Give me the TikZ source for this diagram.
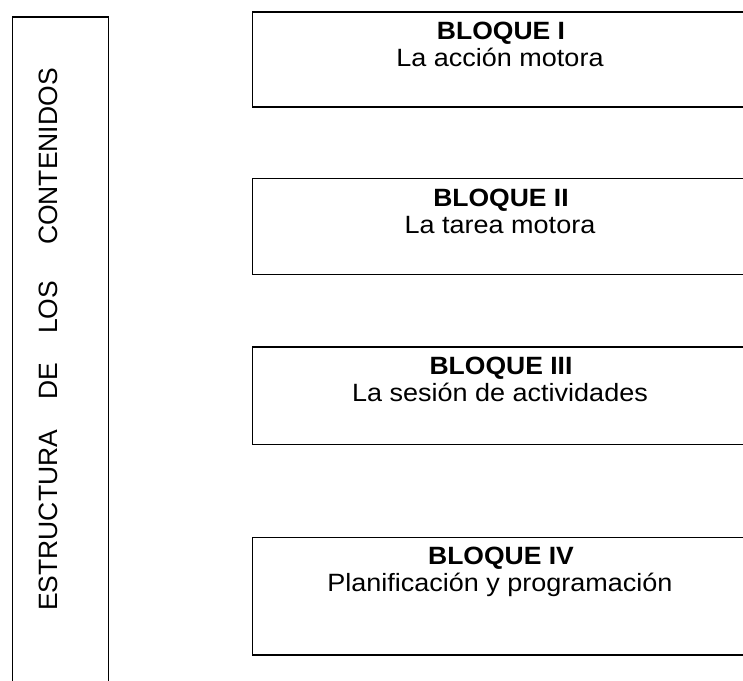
\documentclass[tikz,border=0pt]{standalone}
\usepackage{fontspec}
\setmainfont{Liberation Sans}
\tikzset{
  blockbox/.style={draw=black, line width=1.6pt, rectangle, anchor=north west, minimum width=560pt, inner sep=0pt},
  titletxt/.style={anchor=base, inner sep=0pt, font=\fontsize{25}{30}\selectfont\bfseries, xscale=1.06},
  subtxt/.style={anchor=base, inner sep=0pt, font=\fontsize{25}{30}\selectfont, xscale=1.08},
  sidebox/.style={draw=black, line width=1.6pt, rectangle, anchor=north west, minimum width=96pt, minimum height=720pt, inner sep=0pt},
  sidetxt/.style={anchor=base, inner sep=0pt, rotate=90, font=\fontsize{26.5}{30}\selectfont}
}
\begin{document}
\begin{tikzpicture}[x=1pt,y=-1pt]
\useasboundingbox (0,0) rectangle (743,680);
\clip (0,0) rectangle (743,680);
\fill[white] (0,0) rectangle (743,680);
% left tall box
\node[sidebox] (side) at (11.7,16) {};
\node[sidetxt] (sidet) at (57.3,339.5) {ESTRUCTURA\hspace{30pt}DE\hspace{29pt}LOS\hspace{36pt}CONTENIDOS};
% block boxes
\node[blockbox, minimum height=95pt] (b1) at (251.7,11) {};
\node[titletxt] (t1) at (501,39.5) {BLOQUE I};
\node[subtxt] (s1) at (500,66.5) {La acción motora};

\node[blockbox, minimum height=96pt] (b2) at (251.7,177.5) {};
\node[titletxt] (t2) at (501,206) {BLOQUE II};
\node[subtxt] (s2) at (500,233) {La tarea motora};

\node[blockbox, minimum height=97.5pt] (b3) at (251.7,346) {};
\node[titletxt] (t3) at (501,374) {BLOQUE III};
\node[subtxt] (s3) at (500,401) {La sesión de actividades};

\node[blockbox, minimum height=117.5pt] (b4) at (251.7,536.5) {};
\node[titletxt] (t4) at (501,564.5) {BLOQUE IV};
\node[subtxt] (s4) at (500,591.5) {Planificación y programación};
\end{tikzpicture}
\end{document}
